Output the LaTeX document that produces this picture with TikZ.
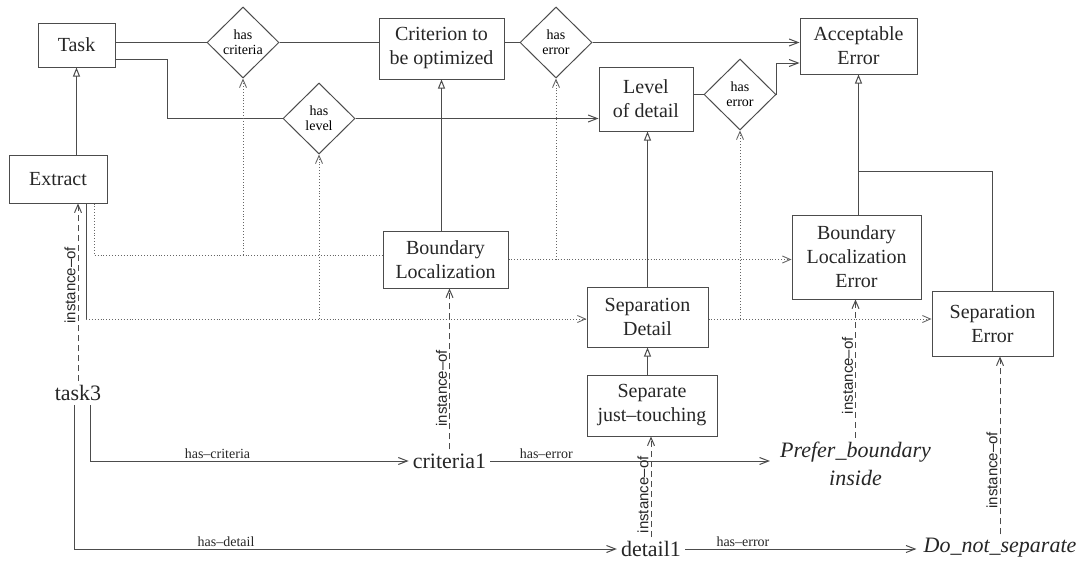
\documentclass[tikz,border=0pt]{standalone}
\usepackage{fontspec}
\setmainfont{Liberation Serif}
\newfontfamily\ofsans{Liberation Sans}
\usetikzlibrary{shapes.geometric, arrows.meta, calc}
\tikzstyle{block} = [rectangle, draw=black!70, line width=1pt, align=center,
    font=\fontsize{20}{24}\selectfont, inner sep=0pt, text=black!85]
\tikzstyle{rel} = [diamond, draw=black!70, line width=1pt, align=center, aspect=1,
    font=\fontsize{14}{15}\selectfont, inner sep=0pt, minimum width=72pt, minimum height=71pt]
\tikzstyle{inst} = [align=center, font=\fontsize{22}{28}\selectfont, inner sep=4pt, text=black!85]
\tikzstyle{conn} = [draw=black!70, line width=1pt]
\tikzstyle{isa} = [conn, -{Triangle[open, length=9pt, width=7pt]}]
\tikzstyle{link} = [conn, -{Straight Barb[length=9pt, width=7pt]}]
\tikzstyle{meta} = [draw=black!60, line width=0.9pt, dotted]
\tikzstyle{metalink} = [meta, -{Straight Barb[length=8pt, width=7pt]}]
\tikzstyle{instof} = [conn, dash pattern=on 6pt off 4pt, -{Straight Barb[length=8pt, width=7pt]}]
\tikzstyle{rlabel} = [font=\fontsize{14}{14}\selectfont, above, inner sep=2pt, text=black!85]
\tikzstyle{ofl} = [sloped, above, font=\ofsans\fontsize{15}{15}\selectfont, inner sep=2pt, text=black!85]
\begin{document}
\begin{tikzpicture}[x=1pt, y=-1pt]
    \useasboundingbox (0,0) rectangle (1084,562);
    % Concept blocks
    \node [block, minimum width=77pt, minimum height=44pt] (task) at (76.5,45) {Task};
    \node [block, minimum width=98pt, minimum height=48pt] (extract) at (58,179) {Extract};
    \node [block, minimum width=125pt, minimum height=61pt] (crit) at (441.5,48.5) {Criterion to\\be optimized};
    \node [block, minimum width=117pt, minimum height=56pt] (accerr) at (858.5,46) {Acceptable\\Error};
    \node [block, minimum width=94pt, minimum height=64pt] (level) at (646,99) {Level\\of detail};
    \node [block, minimum width=125pt, minimum height=57pt] (bloc) at (445.5,259.5) {Boundary\\Localization};
    \node [block, minimum width=121pt, minimum height=60pt] (sepdet) at (647.5,317) {Separation\\Detail};
    \node [block, minimum width=130pt, minimum height=61pt] (septouch) at (652,405.5) {Separate\\just–touching};
    \node [block, minimum width=129pt, minimum height=84pt] (blerr) at (856.5,257) {Boundary\\Localization\\Error};
    \node [block, minimum width=121pt, minimum height=65pt] (seperr) at (992.5,323.5) {Separation\\Error};

    % Relation diamonds
    \node [rel] (hascrit) at (243,42.5) {has\\criteria};
    \node [rel] (hasl) at (319,118.5) {has\\level};
    \node [rel] (haserr1) at (556,42.5) {has\\error};
    \node [rel] (haserr2) at (740,94.5) {has\\error};

    % Instances
    \node [inst] (task3) at (78,393) {task3};
    \node [inst] (crit1) at (449.5,461) {criteria1};
    \node [inst] (det1) at (651,549) {detail1};
    \node [inst, inner xsep=10pt] (prefer) at (855.5,464) {\itshape Prefer\_boundary\\\itshape inside};
    \node [inst, inner xsep=7pt] (dns) at (1000,548) {\itshape Do\_not\_separate};

    \coordinate (railA) at (94,255);
    \coordinate (railB) at (86,319);
    \coordinate (join) at (858.5,171);

    % Relations between concepts
    \draw [conn] (task.east |- hascrit.west) -- (hascrit.west);
    \draw [conn] (hascrit.east) -- (hascrit.east -| crit.west);
    \draw [conn] (crit.east |- haserr1.west) -- (haserr1.west);
    \draw [link] (haserr1.east) -- (haserr1.east -| accerr.west);
    \draw [conn] ([yshift=-14pt]task.east) -- ++(52,0) |- (hasl.west);
    \draw [link] (hasl.east) -- (hasl.east -| level.west);
    \draw [conn] (level.east |- haserr2.west) -- (haserr2.west);
    \draw [link] (haserr2.east) |- ([yshift=-17pt]accerr.west);

    % Specialisation
    \draw [isa] (extract.north -| task.south) -- (task.south);
    \draw [isa] (bloc.north -| crit.south) -- (crit.south);
    \draw [isa] (sepdet.north) -- (sepdet.north |- level.south);
    \draw [isa] (septouch.north -| sepdet.south) -- (sepdet.south);
    \draw [isa] (blerr.north -| accerr.south) -- (accerr.south);
    \draw [conn] (seperr.north) |- (join);

    % Dotted links
    \draw [meta] ([xshift=36pt]extract.south) |- ([yshift=4.5pt]bloc.west);
    \draw [metalink] (bloc.east) -- (bloc.east -| blerr.west);
    \draw [metalink] (hascrit.south |- railA) -- (hascrit.south);
    \draw [metalink] (hasl.south |- railB) -- (hasl.south);
    \draw [metalink] (haserr1.south |- bloc.east) -- (haserr1.south);
    \draw [metalink] (haserr2.south |- railB) -- (haserr2.south);
    \draw [conn] ([xshift=28pt]extract.south) -- (railB);
    \draw [metalink] (railB) -- (railB -| sepdet.west);
    \draw [metalink] (railB -| sepdet.east) -- (railB -| seperr.west);

    % Instance level
    \draw [link] ([xshift=12pt]task3.south) |- node [rlabel, pos=0.7] {has–criteria} (crit1.west);
    \draw [link] ([xshift=-4pt]task3.south) |- node [rlabel, pos=0.64] {has–detail} (det1.west);
    \draw [link] (crit1.east) -- node [rlabel, pos=0.2] {has–error} (crit1.east -| prefer.west);
    \draw [link] (det1.east) -- node [rlabel, pos=0.25] {has–error} (det1.east -| dns.west);

    % instance-of
    \draw [instof] (task3.north) -- node [ofl, pos=0.54] {instance–of} (task3.north |- extract.south);
    \draw [instof] (crit1.north) -- node [ofl, pos=0.38] {instance–of} (crit1.north |- bloc.south);
    \draw [instof] (prefer.north) -- node [ofl, pos=0.45] {instance–of} (prefer.north |- blerr.south);
    \draw [instof] (det1.north) -- node [ofl, pos=0.42] {instance–of} (det1.north |- septouch.south);
    \draw [instof] (dns.north) -- node [ofl, pos=0.36] {instance–of} (dns.north |- seperr.south);
\end{tikzpicture}
\end{document}
